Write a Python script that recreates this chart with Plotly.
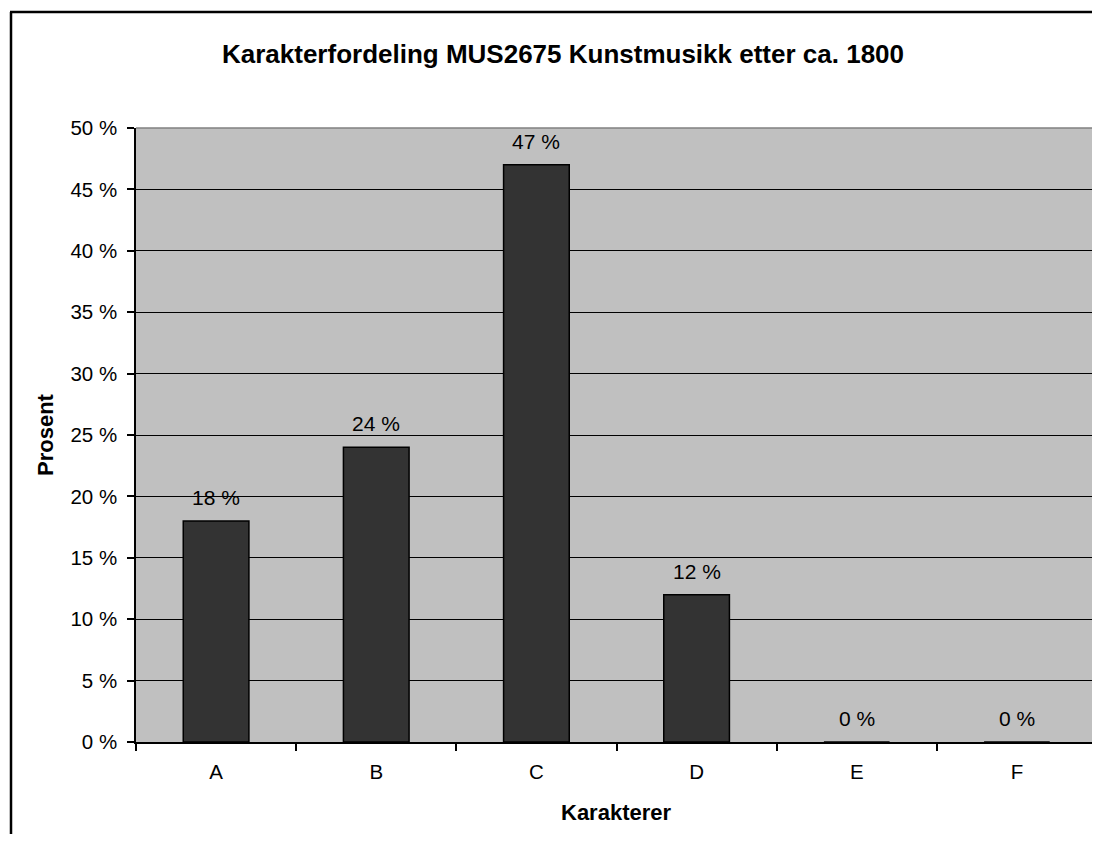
import plotly.graph_objects as go

categories = ["A", "B", "C", "D", "E", "F"]
percent = [18, 24, 47, 12, 0, 0]
y_ticks = [0, 5, 10, 15, 20, 25, 30, 35, 40, 45, 50]
y_tick_labels = [f"{v} %" for v in y_ticks]
title_text = "Karakterfordeling MUS2675 Kunstmusikk etter ca. 1800"
x_title = "Karakterer"
y_title = "Prosent"

# page offset (browser body margin) and figure size (avoid page overflow)
OFF = 8
SCREEN_W, SCREEN_H = 1100, 842
W, H = SCREEN_W - OFF, SCREEN_H - 2 * OFF
# plot area in screen pixels
L, R, T, B = 136, 1097, 128, 742
pw, ph = R - L, B - T


def px_x(x):
    return (x - L) / pw


def px_y(y):
    return (B - y) / ph


FONT = "Arial, 'Liberation Sans', sans-serif"

fig = go.Figure()
fig.add_trace(go.Bar(
    x=categories,
    y=percent,
    marker=dict(color="#333333", line=dict(color="#000000", width=1.5)),
    hoverinfo="skip",
))

for c, v in zip(categories, percent):
    fig.add_annotation(x=c, y=v, xref="x", yref="y", text=f"{v} %",
                       showarrow=False, yanchor="bottom", yshift=10,
                       font=dict(family=FONT, size=21, color="#000000"))

# axis titles
fig.add_annotation(x=px_x(45), y=px_y(435), xref="paper", yref="paper",
                   text=f"<b>{y_title}</b>", textangle=-90, showarrow=False,
                   xanchor="center", yanchor="middle",
                   font=dict(family=FONT, size=22, color="#000000"))
fig.add_annotation(x=0.5, y=px_y(812), xref="paper", yref="paper",
                   text=f"<b>{x_title}</b>", showarrow=False,
                   xanchor="center", yanchor="middle",
                   font=dict(family=FONT, size=22, color="#000000"))

# chart frame (left and top edges; right/bottom lie outside the view)
fig.add_shape(type="line", xref="paper", yref="paper",
              x0=px_x(11), x1=px_x(11), y0=px_y(900), y1=px_y(12),
              line=dict(color="#000000", width=2.5), layer="below")
fig.add_shape(type="line", xref="paper", yref="paper",
              x0=px_x(10), x1=px_x(1120), y0=px_y(12), y1=px_y(12),
              line=dict(color="#000000", width=2.5), layer="below")
# plot area border (top and right)
fig.add_shape(type="line", xref="paper", yref="paper",
              x0=0, x1=1, y0=1, y1=1, line=dict(color="#808080", width=1.5), layer="above")
fig.add_shape(type="line", xref="paper", yref="paper",
              x0=1, x1=1, y0=0, y1=1, line=dict(color="#808080", width=1.5), layer="above")

fig.update_layout(
    width=W, height=H,
    margin=dict(l=L - OFF, r=(OFF + W) - R, t=T - OFF, b=(OFF + H) - B, pad=0),
    paper_bgcolor="#FFFFFF",
    plot_bgcolor="#C0C0C0",
    bargap=0.59,
    showlegend=False,
    title=dict(text=f"<b>{title_text}</b>", x=(563 - OFF) / W, xanchor="center",
               y=1 - (54 - OFF) / H, yanchor="middle",
               font=dict(family=FONT, size=26, color="#000000")),
    font=dict(family=FONT, size=20, color="#000000"),
    xaxis=dict(
        type="category",
        showline=True, linecolor="#000000", linewidth=1.5,
        ticks="outside", ticklen=7, tickcolor="#000000", tickwidth=1.5,
        tickson="boundaries",
        ticklabelstandoff=11,
        showgrid=False, zeroline=False,
        tickfont=dict(family=FONT, size=20.5, color="#000000"),
        fixedrange=True,
    ),
    yaxis=dict(
        range=[0, 50],
        tickvals=y_ticks, ticktext=y_tick_labels,
        showline=True, linecolor="#000000", linewidth=1.5,
        ticks="outside", ticklen=7, tickcolor="#000000", tickwidth=1.5,
        ticklabelstandoff=6,
        showgrid=True, gridcolor="#000000", gridwidth=1,
        zeroline=False,
        tickfont=dict(family=FONT, size=20.5, color="#000000"),
        fixedrange=True,
    ),
)

fig.write_html(
    "out.html",
    post_script="document.documentElement.style.overflow='hidden';document.body.style.overflow='hidden';",
)
